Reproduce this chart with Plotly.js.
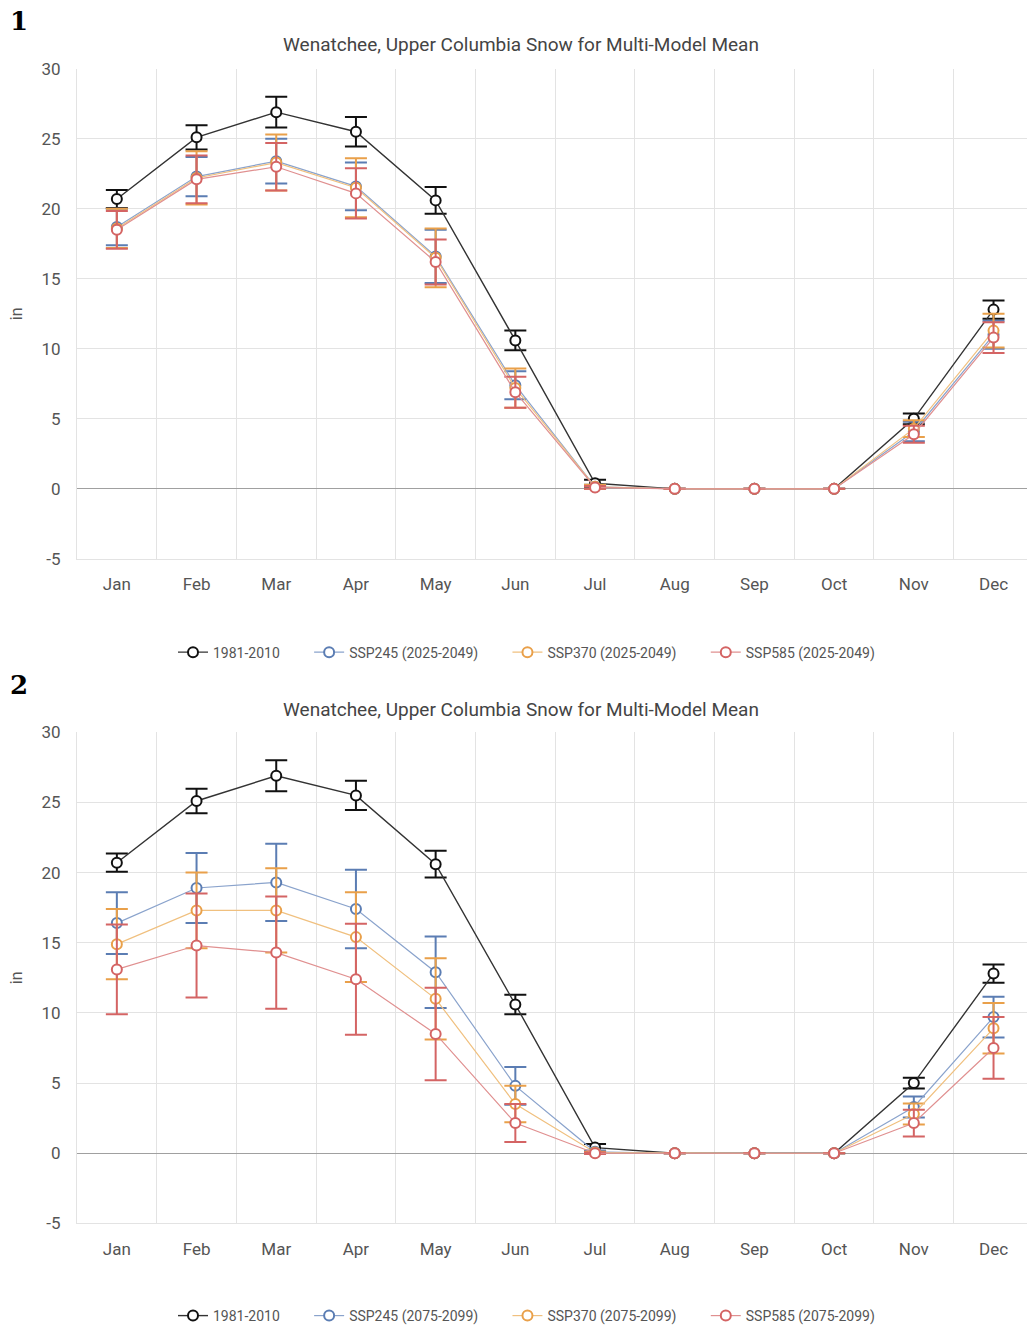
<!DOCTYPE html>
<html>
<head>
<meta charset="utf-8">
<script src="https://cdn.plot.ly/plotly-3.0.1.min.js"></script>
<style>html,body{margin:0;padding:0;background:#fff;}#chart{width:1027px;height:1332px;}</style>
</head>
<body>
<div id="chart"></div>
<script>
// ---- data ----
const months = ['Jan','Feb','Mar','Apr','May','Jun','Jul','Aug','Sep','Oct','Nov','Dec'];
const yTickVals  = [-5, 0, 5, 10, 15, 20, 25, 30];
const yTickText  = ['-5', '0', '5', '10', '15', '20', '25', '30'];

const hist     = [20.7, 25.1, 26.9, 25.5, 20.6, 10.6, 0.4, 0, 0, 0, 5.0, 12.8];
const histErr  = [0.65, 0.87, 1.1, 1.05, 0.95, 0.7, 0.25, null, null, null, 0.38, 0.65];

// Panel 1: 2025-2049
const ssp245Mid    = [18.7, 22.3, 23.4, 21.6, 16.6, 7.4, 0.15, 0, 0, 0, 4.1, 11.0];
const ssp245MidErr = [1.3, 1.4, 1.6, 1.7, 1.9, 1.0, 0.15, null, null, null, 0.7, 1.0];
const ssp370Mid    = [18.6, 22.2, 23.3, 21.5, 16.5, 7.2, 0.15, 0, 0, 0, 4.3, 11.3];
const ssp370MidErr = [1.4, 1.9, 2.0, 2.1, 2.1, 1.4, 0.15, null, null, null, 0.6, 1.2];
const ssp585Mid    = [18.5, 22.1, 23.0, 21.1, 16.2, 6.9, 0.1, 0, 0, 0, 3.9, 10.8];
const ssp585MidErr = [1.35, 1.7, 1.7, 1.8, 1.6, 1.1, 0.1, null, null, null, 0.6, 1.1];

// Panel 2: 2075-2099
const ssp245Late    = [16.4, 18.9, 19.3, 17.4, 12.9, 4.8, 0.1, 0, 0, 0, 3.3, 9.7];
const ssp245LateErr = [2.2, 2.5, 2.75, 2.8, 2.55, 1.35, 0.1, null, null, null, 0.75, 1.45];
const ssp370Late    = [14.9, 17.3, 17.3, 15.4, 11.0, 3.5, 0.05, 0, 0, 0, 2.8, 8.9];
const ssp370LateErr = [2.5, 2.7, 3.0, 3.2, 2.9, 1.3, 0.05, null, null, null, 0.75, 1.8];
const ssp585Late    = [13.1, 14.8, 14.3, 12.4, 8.5, 2.15, 0.0, 0, 0, 0, 2.15, 7.5];
const ssp585LateErr = [3.2, 3.7, 4.0, 3.95, 3.3, 1.35, 0.05, null, null, null, 0.95, 2.2];

const names1 = ['1981-2010','SSP245 (2025-2049)','SSP370 (2025-2049)','SSP585 (2025-2049)'];
const names2 = ['1981-2010','SSP245 (2075-2099)','SSP370 (2075-2099)','SSP585 (2075-2099)'];
const chartTitle = 'Wenatchee, Upper Columbia Snow for Multi-Model Mean';

// ---- styles ----
const styles = [
  {line:'#333333', lw:1.4, mk:'#111111', err:'#111111'},
  {line:'#8aa3cc', lw:1.2, mk:'#5b7db3', err:'#5b7db3'},
  {line:'#f0c07f', lw:1.2, mk:'#e9a04a', err:'#e9a04a'},
  {line:'#e09090', lw:1.2, mk:'#d46464', err:'#d46464'}
];
const pad = '\u00a0'.repeat(7);

function mk(y, err, i, name, xa, ya, leg){
  const s = styles[i];
  return {
    type:'scatter', mode:'lines+markers', x:months, y:y,
    name: i < 3 ? name + pad : name,
    xaxis:xa, yaxis:ya, legend:leg,
    line:{color:s.line, width:s.lw},
    marker:{symbol:'circle', size:10, color:'#ffffff', line:{color:s.mk, width:2}},
    error_y:{type:'data', array:err, visible:true, color:s.err, thickness:2, width:11},
    cliponaxis:false
  };
}

const traces = [
  mk(hist, histErr, 0, names1[0], 'x', 'y', 'legend'),
  mk(ssp245Mid, ssp245MidErr, 1, names1[1], 'x', 'y', 'legend'),
  mk(ssp370Mid, ssp370MidErr, 2, names1[2], 'x', 'y', 'legend'),
  mk(ssp585Mid, ssp585MidErr, 3, names1[3], 'x', 'y', 'legend'),
  mk(hist, histErr, 0, names2[0], 'x2', 'y2', 'legend2'),
  mk(ssp245Late, ssp245LateErr, 1, names2[1], 'x2', 'y2', 'legend2'),
  mk(ssp370Late, ssp370LateErr, 2, names2[2], 'x2', 'y2', 'legend2'),
  mk(ssp585Late, ssp585LateErr, 3, names2[3], 'x2', 'y2', 'legend2')
];

const H = 1332, L = 77, PW = 950;
const py = p => 1 - p / H;
const px = p => (p - L) / PW;

const tickFont = {family:'Roboto, sans-serif', size:17, color:'#555555'};
function xax(anchor){
  return {
    type:'category', categoryorder:'array', categoryarray:months,
    range:[-0.5, 11.42], tickson:'boundaries', ticks:'', showgrid:true,
    gridcolor:'#e3e3e3', gridwidth:1, zeroline:false,
    showline:true, linecolor:'#e3e3e3', linewidth:1,
    tickfont:tickFont, ticklabelstandoff:10, anchor:anchor, fixedrange:true
  };
}
function yax(anchor, dom){
  return {
    domain:dom, range:[-5, 30], tickmode:'array', tickvals:yTickVals, ticktext:yTickText,
    showgrid:true, gridcolor:'#e3e3e3', gridwidth:1,
    zeroline:true, zerolinecolor:'#a0a0a0', zerolinewidth:1,
    showline:true, linecolor:'#e3e3e3', linewidth:1,
    ticks:'', tickfont:tickFont, ticklabelstandoff:12, anchor:anchor,
    title:{text:'in', font:{family:'Roboto, sans-serif', size:16, color:'#555555'}, standoff:14},
    fixedrange:true
  };
}

const legendBase = {
  orientation:'h', x:px(173), xanchor:'left', yanchor:'middle',
  font:{family:'Roboto, sans-serif', size:14, color:'#555555'},
  bgcolor:'rgba(0,0,0,0)', itemclick:false
};

const layout = {
  width:1027, height:1332, autosize:false,
  margin:{l:L, r:0, t:0, b:0},
  paper_bgcolor:'#ffffff', plot_bgcolor:'#ffffff',
  font:{family:'Roboto, sans-serif'},
  showlegend:true,
  xaxis:xax('y'),
  yaxis:yax('x', [py(561), py(69)]),
  xaxis2:xax('y2'),
  yaxis2:yax('x2', [py(1228), py(735)]),
  legend:Object.assign({}, legendBase, {y:py(655)}),
  legend2:Object.assign({}, legendBase, {y:py(1321)}),
  annotations:[
    {text:chartTitle, xref:'paper', yref:'paper', x:px(521), y:py(45), xanchor:'center', yanchor:'middle',
     showarrow:false, font:{family:'Roboto, sans-serif', size:19, color:'#444444'}},
    {text:chartTitle, xref:'paper', yref:'paper', x:px(521), y:py(712), xanchor:'center', yanchor:'middle',
     showarrow:false, font:{family:'Roboto, sans-serif', size:19, color:'#444444'}},
    {text:'<b>1</b>', xref:'paper', yref:'paper', x:px(19), y:py(21), xanchor:'center', yanchor:'middle',
     showarrow:false, font:{family:'DejaVu Serif, serif', size:26, color:'#000000'}},
    {text:'<b>2</b>', xref:'paper', yref:'paper', x:px(19), y:py(688), xanchor:'center', yanchor:'middle',
     showarrow:false, font:{family:'DejaVu Serif, serif', size:26, color:'#000000'}}
  ]
};

Plotly.newPlot('chart', traces, layout, {displayModeBar:false, staticPlot:true});
</script>
</body>
</html>
